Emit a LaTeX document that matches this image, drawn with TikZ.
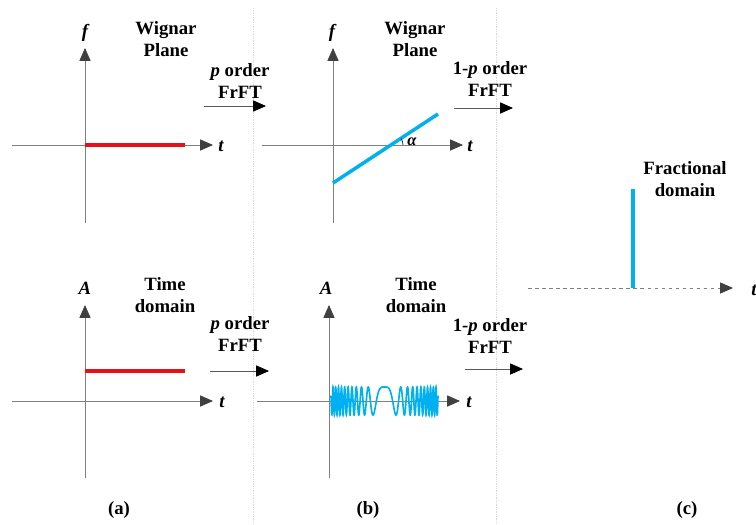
\documentclass[tikz,border=0pt]{standalone}
\usepackage{fontspec}
\setmainfont{Liberation Serif}
\usetikzlibrary{arrows.meta}
\definecolor{sigred}{RGB}{232,16,24}
\definecolor{sigblue}{RGB}{0,176,240}
\tikzset{
  axis/.style={gray, line width=0.7pt, -{Triangle[length=11pt,width=9.5pt,color=black!75]}},
  trans/.style={black!65, line width=0.7pt, -{Triangle[length=11pt,width=9.5pt,color=black]}},
  sep/.style={black!15, line width=0.5pt, densely dotted},
  txt/.style={font=\bfseries\fontsize{16}{19}\selectfont, align=center},
  var/.style={font=\bfseries\itshape\fontsize{16}{18}\selectfont},
}
\begin{document}
\begin{tikzpicture}[x=0.03cm,y=-0.03cm]
\useasboundingbox (0,0) rectangle (756,524);
% panel separators
\draw[sep] (253,8) -- (253,524);
\draw[sep] (496,8) -- (496,524);

% (a) Wigner plane
\coordinate (aWo) at (85,145);
\draw[axis] (85,223) -- (85,48) coordinate (aWf);
\draw[axis] (12,145) -- (213,145) coordinate (aWt);
\draw[sigred, line width=3.4pt] (aWo) -- (185,145);
\node[var] (aWflbl) at (85,33) {f};
\node[var] (aWtlbl) at (221,146) {t};
\node[txt] (aWname) at (166,39) {Wignar\\Plane};

% (a) time domain
\coordinate (aTo) at (85,401);
\draw[axis] (85,478) -- (85,305) coordinate (aTa);
\draw[axis] (12,401) -- (213,401) coordinate (aTt);
\draw[sigred, line width=3.4pt] (85,371) -- (185,371);
\node[var] (aTalbl) at (85,288) {A};
\node[var] (aTtlbl) at (222,402) {t};
\node[txt] (aTname) at (165,295) {Time\\domain};

% p order FrFT
\coordinate (pWs) at (204,106);
\coordinate (pWe) at (266,106);
\draw[trans] (pWs) -- (pWe);
\node[txt] (pWlbl) at (240,81) {\textit{p} order\\FrFT};
\coordinate (pTs) at (210,371);
\coordinate (pTe) at (269,371);
\draw[trans] (pTs) -- (pTe);
\node[txt] (pTlbl) at (240,334) {\textit{p} order\\FrFT};

% (b) Wigner plane
\draw[axis] (333,223) -- (333,48) coordinate (bWf);
\draw[axis] (262,145) -- (463,145) coordinate (bWt);
\draw[sigblue, line width=3pt] (333,183) -- (438,114);
\draw[black, line width=0.5pt] (403,145) arc (0:-33:12);
\node[var, font=\bfseries\itshape\fontsize{14}{15}\selectfont] (bWalpha) at (412,142) {α};
\node[var] (bWflbl) at (332,33) {f};
\node[var] (bWtlbl) at (470,146) {t};
\node[txt] (bWname) at (415,39) {Wignar\\Plane};

% (b) time domain, chirp
\draw[axis] (329,478) -- (329,305) coordinate (bTa);
\draw[axis] (257,401) -- (460,401) coordinate (bTt);
\draw[sigblue, line width=1.4pt] plot[domain=-53.5:53.5, samples=900]
  ({384.5+\x},{401-14*cos(1.36*(\x)*(\x))});
\node[var] (bTalbl) at (326,288) {A};
\node[var] (bTtlbl) at (469,402) {t};
\node[txt] (bTname) at (416,295) {Time\\domain};

% 1-p order FrFT
\coordinate (qWs) at (454,108);
\coordinate (qWe) at (513,108);
\draw[trans] (qWs) -- (qWe);
\node[txt] (qWlbl) at (490,79) {1-\textit{p} order\\FrFT};
\coordinate (qTs) at (465,369);
\coordinate (qTe) at (523,369);
\draw[trans] (qTs) -- (qTe);
\node[txt] (qTlbl) at (490,336) {1-\textit{p} order\\FrFT};

% (c) fractional domain
\draw[axis, dashed] (528,288) -- (733,288) coordinate (cFt);
\draw[sigblue, line width=2.6pt] (633,189) -- (633,288);
\node[var] (cFtlbl) at (754,290) {t};
\node[txt] (cFname) at (685,179) {Fractional\\domain};

% captions
\node[txt] (capa) at (119,510) {(a)};
\node[txt] (capb) at (368,510) {(b)};
\node[txt] (capc) at (687,510) {(c)};
\end{tikzpicture}
\end{document}
